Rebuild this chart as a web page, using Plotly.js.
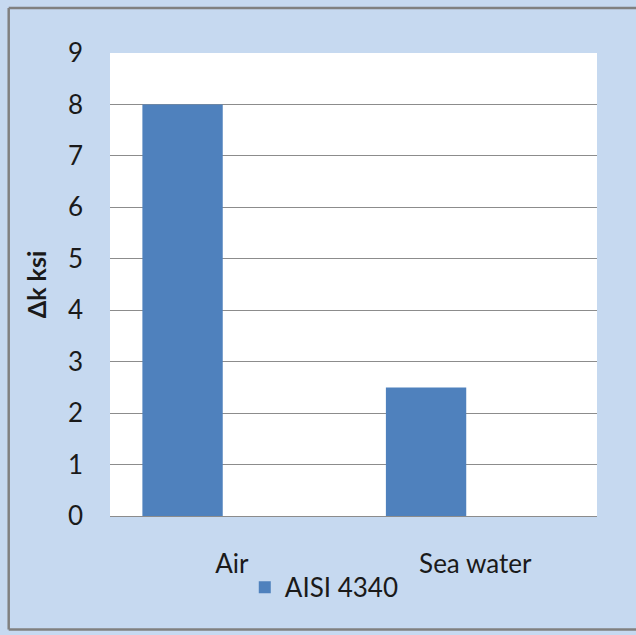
<!DOCTYPE html>
<html>
<head>
<meta charset="utf-8">
<script src="https://cdn.plot.ly/plotly-3.0.1.min.js"></script>
<style>
  html, body { margin: 0; padding: 0; background: #c6d9f0; overflow: hidden; }
  #chart { width: 636px; height: 635px; }
</style>
</head>
<body>
<div id="chart"></div>
<script>
// Threshold stress-intensity range for AISI 4340 in two environments
const environments = ["Air", "Sea water"];
const deltaK = [8, 2.5];
const seriesName = "AISI 4340";
const yTicks = [0, 1, 2, 3, 4, 5, 6, 7, 8, 9];

const fontFamily = "Lato, 'Open Sans', 'DejaVu Sans', sans-serif";
const textColor = "#1a1a1a";

const trace = {
  type: "bar",
  x: environments,
  y: deltaK,
  name: seriesName,
  width: 0.33,
  offset: -0.367,
  marker: { color: "#4f81bd", line: { width: 0 } },
  hoverinfo: "x+y"
};

// Chart-area frame: left, top and bottom edges, running to the page's right edge
const frameColor = "#808080";
const frameRight = (636 - 110) / 487;
const frameLine = (x0, y0, x1, y1) => ({
  type: "line", xref: "paper", yref: "paper",
  x0, y0, x1, y1,
  line: { color: frameColor, width: 2.5 },
  layer: "below"
});

const layout = {
  width: 636,
  height: 635,
  margin: { l: 110, r: 39, t: 53, b: 119 },
  paper_bgcolor: "#c6d9f0",
  plot_bgcolor: "#ffffff",
  font: { family: fontFamily, size: 26, color: textColor },
  showlegend: true,
  legend: {
    orientation: "h",
    x: 0.44, xanchor: "center",
    y: -0.154, yanchor: "middle",
    bgcolor: "rgba(0,0,0,0)",
    font: { family: fontFamily, size: 26, color: textColor },
    itemwidth: 30
  },
  xaxis: {
    type: "category",
    showgrid: false,
    zeroline: false,
    showline: false,
    ticks: "",
    ticklabelstandoff: 30,
    tickfont: { family: fontFamily, size: 26, color: textColor }
  },
  yaxis: {
    range: [0, 9],
    tickvals: yTicks,
    showgrid: true,
    gridcolor: "#8c8c8c",
    gridwidth: 1,
    zeroline: true,
    zerolinecolor: "#8c8c8c",
    zerolinewidth: 1,
    showline: false,
    ticks: "",
    ticklabelstandoff: 26,
    tickfont: { family: fontFamily, size: 26, color: textColor },
    title: {
      text: "<b>Δk ksi</b>",
      font: { family: fontFamily, size: 25, color: textColor },
      standoff: 14
    }
  },
  shapes: [
    frameLine(-0.208, -0.245, -0.208, 1.097),
    frameLine(-0.208, 1.097, frameRight, 1.097),
    frameLine(-0.208, -0.245, frameRight, -0.245)
  ],
  bargap: 0.3
};

Plotly.newPlot("chart", [trace], layout, { displayModeBar: false, staticPlot: true });
</script>
</body>
</html>
